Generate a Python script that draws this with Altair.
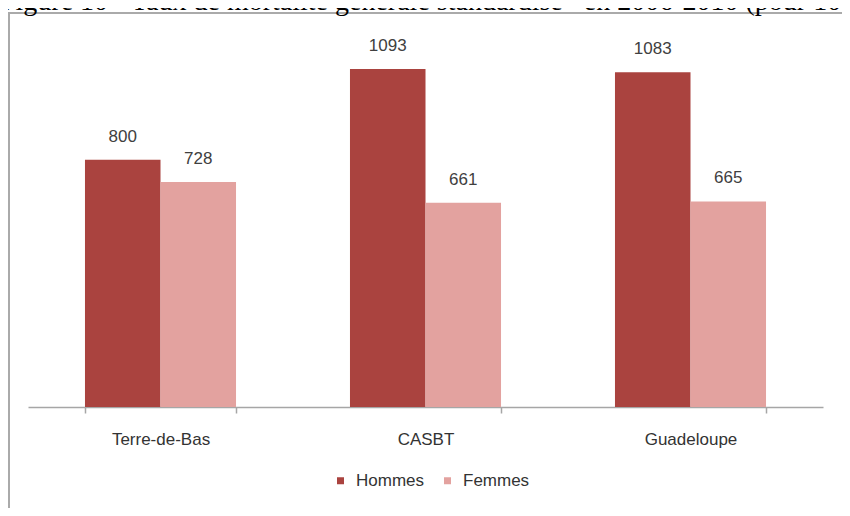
import altair as alt
import pandas as pd

categories = ["Terre-de-Bas", "CASBT", "Guadeloupe"]
series = ["Hommes", "Femmes"]
hommes = [800, 1093, 1083]
femmes = [728, 661, 665]
colors = ["#AA433F", "#E3A29F"]
title_text = "Figure 10 - Taux de mortalité générale standardisé* en 2006-2010 (pour 100 000 habitants)"

rows = []
for c, h, f in zip(categories, hommes, femmes):
    rows.append({"zone": c, "sexe": "Hommes", "valeur": h})
    rows.append({"zone": c, "sexe": "Femmes", "valeur": f})
df = pd.DataFrame(rows)
one = pd.DataFrame({"k": [0]})

x_enc = alt.X(
    "zone:N",
    sort=categories,
    scale=alt.Scale(paddingInner=0.43, paddingOuter=0.215),
    axis=alt.Axis(
        title=None,
        labelAngle=0,
        tickBand="extent",
        domainColor="#a6a6a6",
        domainWidth=1.5,
        tickColor="#a6a6a6",
        tickWidth=1.5,
        tickSize=6,
        labelFont="Liberation Sans",
        labelFontSize=17,
        labelColor="#333333",
        labelPadding=18,
    ),
)
xoff = alt.XOffset("sexe:N", sort=series)
y_enc = alt.Y("valeur:Q", scale=alt.Scale(domain=[0, 1200]), axis=None)

base = alt.Chart(df)

bars = base.mark_bar().encode(
    x=x_enc,
    xOffset=xoff,
    y=y_enc,
    color=alt.Color(
        "sexe:N",
        sort=series,
        scale=alt.Scale(domain=series, range=colors),
        legend=alt.Legend(
            title=None,
            orient="none",
            legendX=304,
            legendY=436,
            direction="horizontal",
            symbolType="square",
            symbolSize=49,
            symbolStrokeWidth=0,
            labelFont="Liberation Sans",
            labelFontSize=17,
            labelColor="#333333",
            labelOffset=7,
            columnPadding=14,
        ),
    ),
)

labels = base.mark_text(
    baseline="alphabetic",
    dy=-18,
    font="Liberation Sans",
    fontSize=17,
    color="#404040",
).encode(x=x_enc, xOffset=xoff, y=y_enc, text=alt.Text("valeur:Q"))

frame_left = alt.Chart(one).mark_rule(color="#aaaaaa", strokeWidth=2).encode(
    x=alt.value(-19), y=alt.value(-24), y2=alt.value(480)
)
frame_top = alt.Chart(one).mark_rule(color="#aaaaaa", strokeWidth=2).encode(
    x=alt.value(-20), x2=alt.value(830), y=alt.value(-23)
)
title = alt.Chart(one).mark_text(
    align="left",
    baseline="alphabetic",
    font="Liberation Serif",
    fontSize=28,
    color="#000000",
).encode(x=alt.value(-28), y=alt.value(-26), text=alt.value(title_text))

chart = (
    alt.layer(frame_left, frame_top, title, bars, labels)
    .properties(
        width=795,
        height=371,
        autosize="none",
        padding={"left": 20, "top": 28, "right": 19, "bottom": 101},
    )
    .configure_view(strokeWidth=0)
)

chart.save("out.html", embed_options={"renderer": "svg", "actions": False})
